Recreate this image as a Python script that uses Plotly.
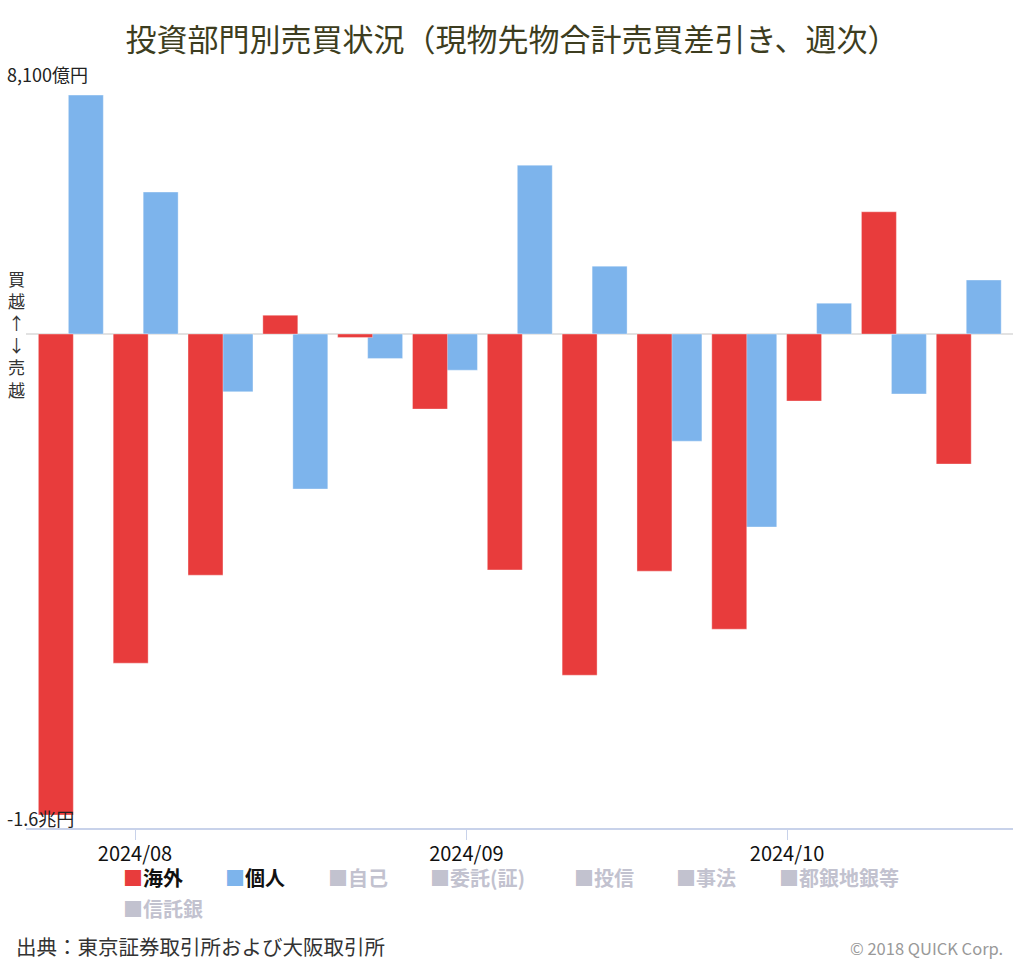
import plotly.graph_objects as go

# ---- data (億円, weekly net buy/sell) ----
weeks = ['2024-07-26', '2024-08-02', '2024-08-09', '2024-08-16', '2024-08-23',
         '2024-08-30', '2024-09-06', '2024-09-13', '2024-09-20', '2024-09-27',
         '2024-10-04', '2024-10-11', '2024-10-18']
overseas = [-15580, -10660, -7810, 610, -110, -2430, -7640, -11050, -7680, -9560, -2170, 3960, -4210]
individual = [7740, 4600, -1870, -5020, -790, -1170, 5470, 2200, -3470, -6250, 1000, -1940, 1750]

active_names = ['海外', '個人']
inactive_names = ['自己', '委託(証)', '投信', '事法', '都銀地銀等', '信託銀']

y_tick_vals = [-16000, 8100]
y_tick_text = ['-1.6兆円', '8,100億円']
x_tick_vals = ['2024-08-01', '2024-09-01', '2024-10-01']
x_tick_text = ['2024/08', '2024/09', '2024/10']

title_text = '投資部門別売買状況（現物先物合計売買差引き、週次）'
source_text = '出典：東京証券取引所および大阪取引所'
copyright_text = '© 2018 QUICK Corp.'
axis_note = '買<br>越<br>↑<br>↓<br>売<br>越'

# ---- styles ----
FONT = 'Noto Sans CJK JP, Noto Sans, sans-serif'
RED = '#e83c3c'
BLUE = '#7db4ec'
GRAY = '#c2c2cf'
DAY = 86400000
BAR_W = 3.27 * DAY

fig = go.Figure()

fig.add_trace(go.Bar(
    x=weeks, y=individual, name=active_names[1], showlegend=False,
    marker=dict(color=BLUE, line=dict(color='rgba(255,255,255,0.35)', width=1)),
    offset=-0.234 * DAY, width=BAR_W,
))
fig.add_trace(go.Bar(
    x=weeks, y=overseas, name=active_names[0], showlegend=False,
    marker=dict(color=RED, line=dict(color='rgba(255,255,255,0.35)', width=1)),
    offset=-3.04 * DAY, width=BAR_W,
))

# legend entries
HIDDEN_MARKER = dict(color='rgba(0,0,0,0)', line=dict(color='rgba(0,0,0,0)', width=0))
legend_colors = [RED, BLUE]
legend_widths_active = [57, 58]
for nm, col, lw in zip(active_names, legend_colors, legend_widths_active):
    fig.add_trace(go.Bar(
        x=[None], y=[None], name=f'<span style="color:{col}">■</span>{nm}',
        marker=HIDDEN_MARKER, legend='legend', legendwidth=lw,
        hoverinfo='skip',
    ))
legend_widths_inactive = [57, 99, 57, 58, 120, 80]
for i, (nm, lw) in enumerate(zip(inactive_names, legend_widths_inactive)):
    fig.add_trace(go.Bar(
        x=[None], y=[None], name=f'<span style="color:{GRAY}">■{nm}</span>',
        marker=HIDDEN_MARKER,
        legend='legend' if i < 5 else 'legend2', legendwidth=lw,
        hoverinfo='skip',
    ))

legend_common = dict(
    orientation='h', xanchor='left', yanchor='middle',
    font=dict(family=FONT, size=20, color='#111111', weight='bold'),
    bgcolor='rgba(0,0,0,0)', itemclick=False, itemdoubleclick=False,
    traceorder='normal',
)

fig.update_layout(
    width=1024, height=964,
    paper_bgcolor='white', plot_bgcolor='white',
    margin=dict(l=26, r=11, t=84, b=136, autoexpand=False),
    barmode='overlay',
    font=dict(family=FONT, color='#222222'),
    title=dict(text=title_text, x=0.5, xanchor='center', xref='container',
               y=1 - 40 / 964, yanchor='middle', yref='container',
               font=dict(family=FONT, size=31, color='#3d3d20')),
    legend=dict(legend_common, x=0.0577, y=-0.0672),
    legend2=dict(legend_common, x=0.0577, y=-0.1089),
    xaxis=dict(
        type='date', automargin=False,
        range=['2024-07-21 19:16', '2024-10-22 03:20'],
        tickvals=x_tick_vals, ticktext=x_tick_text,
        ticks='outside', ticklen=10, tickcolor='#c8d2ea', tickwidth=1,
        ticklabelstandoff=-3,
        showline=True, linecolor='#c8d2ea', linewidth=1.5,
        showgrid=False, zeroline=False,
        tickfont=dict(family=FONT, size=20, color='#111111'),
        fixedrange=True,
    ),
    yaxis=dict(
        automargin=False,
        range=[-16000, 8100],
        tickvals=y_tick_vals, ticktext=y_tick_text,
        ticklabelposition='inside', ticklabeloverflow='allow',
        ticklabelstandoff=-22, ticklabelshift=-8,
        ticks='',
        showgrid=True, gridcolor='#e6e6e6', gridwidth=1.5,
        zeroline=True, zerolinecolor='#e2e2e2', zerolinewidth=1.5,
        showline=False,
        tickfont=dict(family=FONT, size=18, color='#222222'),
        fixedrange=True,
    ),
    annotations=[
        dict(text=axis_note, xref='paper', x=0, xshift=-10, xanchor='center',
             yref='y', y=0, yanchor='middle', showarrow=False,
             font=dict(family=FONT, size=17, color='#333333')),
        dict(text=source_text, xref='paper', x=0, xshift=-12, xanchor='left',
             yref='paper', y=-(946 - 828) / 744, yanchor='middle', showarrow=False,
             font=dict(family=FONT, size=20.5, color='#333333')),
        dict(text=copyright_text, xref='paper', x=1, xshift=-8, xanchor='right',
             yref='paper', y=-(948 - 828) / 744, yanchor='middle', showarrow=False,
             font=dict(family=FONT, size=16.5, color='#999999')),
    ],
)

fig.write_html('out.html', config={'displayModeBar': False},
               post_script="document.body.style.margin='0';")
